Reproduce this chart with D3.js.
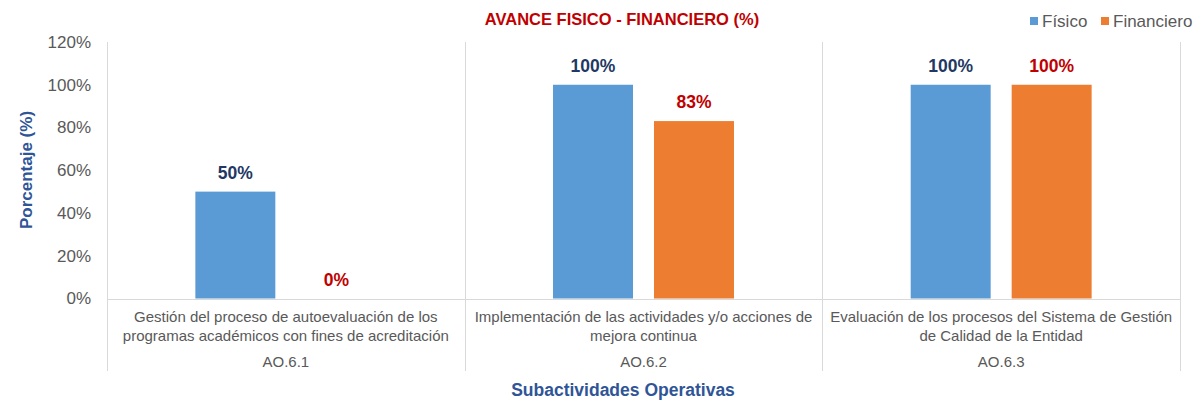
<!DOCTYPE html>
<html>
<head>
<meta charset="utf-8">
<script src="https://cdn.jsdelivr.net/npm/d3@7"></script>
<style>
  body { margin: 0; background: #fff; }
  text { font-family: "Liberation Sans", Arial, sans-serif; }
</style>
</head>
<body>
<div id="chart"></div>
<script>
// data
var codes = ["AO.6.1", "AO.6.2", "AO.6.3"];
var categories = [
    "Gestión del proceso de autoevaluación de los programas académicos con fines de acreditación",
    "Implementación de las actividades y/o acciones de mejora continua",
    "Evaluación de los procesos del Sistema de Gestión de Calidad de la Entidad"
];
var seriesNames = ["Físico", "Financiero"];
var fisico = [50, 100, 100];
var financiero = [0, 83, 100];
var yTicks = [0, 20, 40, 60, 80, 100, 120];

var width = 1194, height = 400;
var margin = {top: 42, right: 14, bottom: 101, left: 107};
var colors = {"Físico": "#5b9bd5", "Financiero": "#ed7d31"};
var labelColors = {"Físico": "#1f3864", "Financiero": "#c00000"};

var rows = codes.map(function (c, i) {
    return {code: c, cat: categories[i], values: [
        {key: "Físico", value: fisico[i]},
        {key: "Financiero", value: financiero[i]}
    ]};
});

var svg = d3.select("#chart").append("svg")
    .attr("width", width)
    .attr("height", height);

var plotW = width - margin.left - margin.right;
var plotH = height - margin.top - margin.bottom - 1;

var g = svg.append("g")
    .attr("transform", "translate(" + margin.left + "," + margin.top + ")");

var x0 = d3.scaleBand().domain(codes).range([0, plotW]).padding(0);
var x1 = d3.scaleBand().domain(seriesNames).range([0, x0.bandwidth()])
    .paddingInner(0.208).paddingOuter(0.875);
var y = d3.scaleLinear().domain([0, 120]).range([plotH + 0.5, 0]);

// y axis labels
g.selectAll(".ytick")
    .data(yTicks)
    .enter().append("text")
    .attr("x", -16)
    .attr("y", function (d) { return y(d); })
    .attr("dy", "0.35em")
    .attr("text-anchor", "end")
    .style("font-size", "17px")
    .style("fill", "#595959")
    .text(function (d) { return d + "%"; });

// separators
var bounds = codes.map(function (c) { return x0(c); }).concat([plotW]);
g.selectAll(".sep")
    .data(bounds)
    .enter().append("line")
    .attr("x1", function (d) { return Math.round(d) + 0.5; })
    .attr("x2", function (d) { return Math.round(d) + 0.5; })
    .attr("y1", y(120))
    .attr("y2", height - margin.top - 29)
    .style("stroke", "#d9d9d9")
    .style("stroke-width", 1);

// bars
var groups = g.selectAll(".grp")
    .data(rows)
    .enter().append("g")
    .attr("transform", function (d) { return "translate(" + x0(d.code) + ",0)"; });

groups.selectAll("rect")
    .data(function (d) { return d.values; })
    .enter().append("rect")
    .attr("x", function (d) { return x1(d.key); })
    .attr("width", x1.bandwidth())
    .attr("y", function (d) { return y(d.value); })
    .attr("height", function (d) { return y(0) - y(d.value); })
    .style("fill", function (d) { return colors[d.key]; });

groups.selectAll(".val")
    .data(function (d) { return d.values; })
    .enter().append("text")
    .attr("x", function (d) { return x1(d.key) + x1.bandwidth() / 2; })
    .attr("y", function (d) { return y(d.value) - 13; })
    .attr("text-anchor", "middle")
    .style("font-size", "17.5px")
    .style("font-weight", "bold")
    .style("fill", function (d) { return labelColors[d.key]; })
    .text(function (d) { return d.value + "%"; });

// baseline
g.append("line")
    .attr("x1", 0).attr("x2", plotW)
    .attr("y1", Math.round(y(0)) + 0.5).attr("y2", Math.round(y(0)) + 0.5)
    .style("stroke", "#d9d9d9");

// category labels (wrapped)
function wrap(textSel, maxW) {
    textSel.each(function () {
        var t = d3.select(this);
        var words = t.text().split(/\s+/);
        var cx = t.attr("x");
        t.text(null);
        var line = [];
        var tspan = t.append("tspan").attr("x", cx).attr("dy", 0);
        words.forEach(function (w) {
            line.push(w);
            tspan.text(line.join(" "));
            if (tspan.node().getComputedTextLength() > maxW && line.length > 1) {
                line.pop();
                tspan.text(line.join(" "));
                line = [w];
                tspan = t.append("tspan").attr("x", cx).attr("dy", "1.27em").text(w);
            }
        });
    });
}

groups.append("text")
    .attr("x", x0.bandwidth() / 2)
    .attr("y", y(0) + 23)
    .attr("text-anchor", "middle")
    .style("font-size", "15px")
    .style("fill", "#595959")
    .text(function (d) { return d.cat; })
    .call(wrap, 350);

groups.append("text")
    .attr("x", x0.bandwidth() / 2)
    .attr("y", y(0) + 68)
    .attr("text-anchor", "middle")
    .style("font-size", "15px")
    .style("fill", "#595959")
    .text(function (d) { return d.code; });

// title
svg.append("text")
    .attr("x", 622)
    .attr("y", 25)
    .attr("text-anchor", "middle")
    .style("font-size", "16.5px")
    .style("font-weight", "bold")
    .style("fill", "#c00000")
    .text("AVANCE FISICO - FINANCIERO (%)");

// axis titles
svg.append("text")
    .attr("transform", "translate(32," + (margin.top + plotH / 2) + ") rotate(-90)")
    .attr("text-anchor", "middle")
    .style("font-size", "17px")
    .style("font-weight", "bold")
    .style("fill", "#2f5597")
    .text("Porcentaje (%)");

svg.append("text")
    .attr("x", 623)
    .attr("y", 396)
    .attr("text-anchor", "middle")
    .style("font-size", "17.5px")
    .style("font-weight", "bold")
    .style("fill", "#2f5597")
    .text("Subactividades Operativas");

// legend
var legX = [1030, 1101];
var leg = svg.selectAll(".leg")
    .data(seriesNames)
    .enter().append("g")
    .attr("transform", function (d, i) { return "translate(" + legX[i] + ",17)"; });
leg.append("rect")
    .attr("width", 8).attr("height", 8)
    .style("fill", function (d) { return colors[d]; });
leg.append("text")
    .attr("x", 12)
    .attr("y", 10)
    .style("font-size", "17px")
    .style("fill", "#595959")
    .text(function (d) { return d; });
</script>
</body>
</html>
